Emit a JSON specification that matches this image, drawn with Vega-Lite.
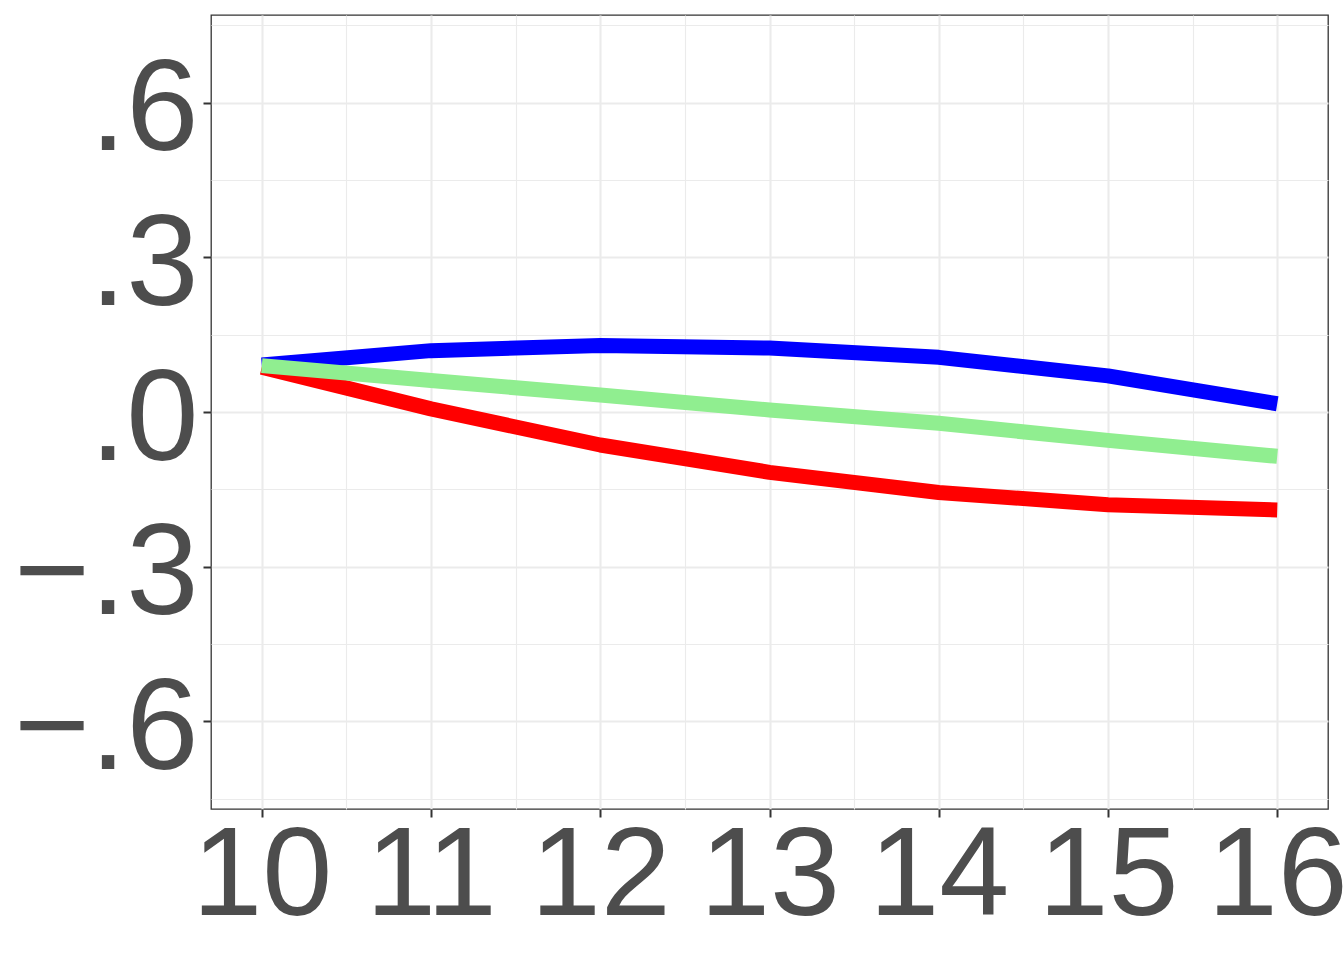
{
  "$schema": "https://vega.github.io/schema/vega-lite/v6.json",
  "width": 1117,
  "height": 794,
  "autosize": "none",
  "padding": {"left": 211, "top": 15, "right": 16, "bottom": 151},
  "background": "white",
  "config": {
    "font": "Liberation Sans",
    "view": {"stroke": "#333333", "strokeWidth": 1.3}
  },
  "data": {
    "values": [
      {"series": "A", "x": 10, "y": 0.087},
      {"series": "A", "x": 11, "y": 0.006},
      {"series": "A", "x": 12, "y": -0.064},
      {"series": "A", "x": 13, "y": -0.117},
      {"series": "A", "x": 14, "y": -0.156},
      {"series": "A", "x": 15, "y": -0.180},
      {"series": "A", "x": 16, "y": -0.190},
      {"series": "B", "x": 10, "y": 0.091},
      {"series": "B", "x": 11, "y": 0.119},
      {"series": "B", "x": 12, "y": 0.129},
      {"series": "B", "x": 13, "y": 0.124},
      {"series": "B", "x": 14, "y": 0.106},
      {"series": "B", "x": 15, "y": 0.070},
      {"series": "B", "x": 16, "y": 0.016},
      {"series": "C", "x": 10, "y": 0.090},
      {"series": "C", "x": 11, "y": 0.061},
      {"series": "C", "x": 12, "y": 0.033},
      {"series": "C", "x": 13, "y": 0.004},
      {"series": "C", "x": 14, "y": -0.022},
      {"series": "C", "x": 15, "y": -0.055},
      {"series": "C", "x": 16, "y": -0.086}
    ]
  },
  "layer": [
    {
      "mark": {"type": "line", "opacity": 0},
      "encoding": {
        "x": {
          "field": "x", "type": "quantitative",
          "scale": {"domain": [9.7, 16.3], "nice": false, "zero": false},
          "axis": {"orient": "top", "values": [10.5, 11.5, 12.5, 13.5, 14.5, 15.5], "grid": true, "gridColor": "#EBEBEB", "gridWidth": 1.1, "labels": false, "ticks": false, "domain": false, "title": null}
        },
        "y": {
          "field": "y", "type": "quantitative",
          "scale": {"domain": [-0.77, 0.77], "nice": false, "zero": false},
          "axis": {"orient": "right", "values": [-0.75, -0.45, -0.15, 0.15, 0.45, 0.75], "grid": true, "gridColor": "#EBEBEB", "gridWidth": 1.1, "labels": false, "ticks": false, "domain": false, "title": null}
        },
        "detail": {"field": "series"}
      }
    },
    {
      "mark": {"type": "line", "strokeWidth": 15, "strokeCap": "butt", "strokeJoin": "round"},
      "encoding": {
        "x": {
          "field": "x", "type": "quantitative",
          "scale": {"domain": [9.7, 16.3], "nice": false, "zero": false},
          "axis": {"orient": "bottom", "values": [10, 11, 12, 13, 14, 15, 16], "format": "d", "grid": true, "gridColor": "#EBEBEB", "gridWidth": 2.1, "domain": false, "ticks": true, "tickColor": "#333333", "tickWidth": 2, "tickSize": 8, "labelFontSize": 126, "labelColor": "#4D4D4D", "labelPadding": -3, "labelFlush": false, "labelOverlap": false, "labelLimit": 1000, "title": null}
        },
        "y": {
          "field": "y", "type": "quantitative",
          "scale": {"domain": [-0.77, 0.77], "nice": false, "zero": false},
          "axis": {"orient": "left", "values": [-0.6, -0.3, 0, 0.3, 0.6], "labelExpr": "datum.value == 0 ? '.0' : (datum.value < 0 ? '\u2212' : '') + '.' + format(abs(datum.value) * 10, 'd')", "grid": true, "gridColor": "#EBEBEB", "gridWidth": 2.1, "domain": false, "ticks": true, "tickColor": "#333333", "tickWidth": 2, "tickSize": 8, "labelFontSize": 130, "labelColor": "#4D4D4D", "labelPadding": 5, "labelBaseline": "alphabetic", "labelOffset": 47, "labelFlush": false, "labelOverlap": false, "labelLimit": 1000, "title": null}
        },
        "color": {
          "field": "series", "type": "nominal",
          "scale": {"domain": ["A", "B", "C"], "range": ["#FF0000", "#0000FF", "#90EE90"]},
          "legend": null
        }
      }
    }
  ],
  "resolve": {"axis": {"x": "independent", "y": "independent"}}
}
